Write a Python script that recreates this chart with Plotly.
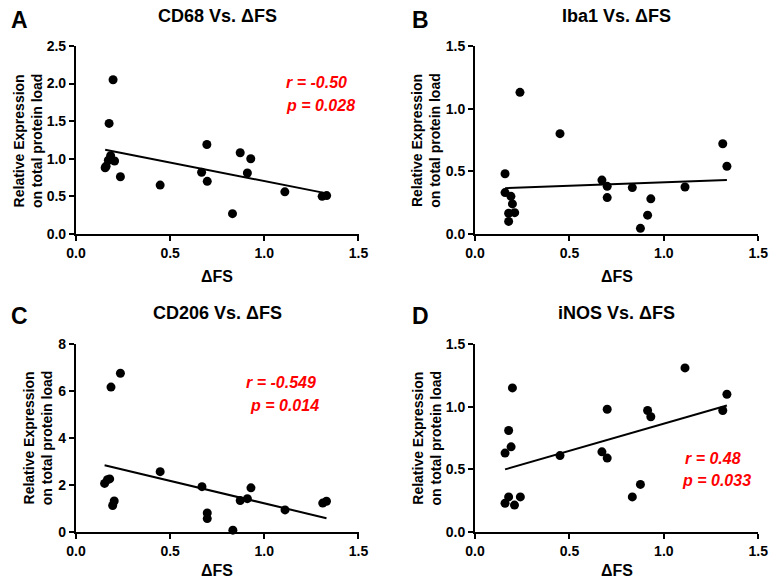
import plotly.graph_objects as go

W, H = 778, 587
FONT = "Arial, Liberation Sans, sans-serif"

# ---------------- data ----------------
titles = ["CD68 Vs. ΔFS", "Iba1 Vs. ΔFS", "CD206 Vs. ΔFS", "iNOS Vs. ΔFS"]
letters = ["A", "B", "C", "D"]

a_x = [0.155, 0.160, 0.172, 0.176, 0.184, 0.197, 0.205, 0.236, 0.447, 0.667,
       0.695, 0.697, 0.831, 0.872, 0.910, 0.928, 1.109, 1.307, 1.331]
a_y = [0.88, 0.90, 0.98, 1.47, 1.04, 2.05, 0.97, 0.76, 0.65, 0.82,
       1.19, 0.70, 0.27, 1.08, 0.81, 1.00, 0.56, 0.50, 0.51]
a_fit = [1.12, 0.54]

b_x = [0.159, 0.159, 0.190, 0.178, 0.178, 0.198, 0.210, 0.238, 0.450, 0.672,
       0.700, 0.700, 0.833, 0.876, 0.914, 0.931, 1.112, 1.312, 1.334]
b_y = [0.48, 0.33, 0.30, 0.165, 0.10, 0.24, 0.17, 1.13, 0.80, 0.43,
       0.38, 0.29, 0.37, 0.045, 0.15, 0.28, 0.375, 0.72, 0.54]
b_fit = [0.365, 0.43]

c_x = [0.152, 0.167, 0.179, 0.186, 0.195, 0.203, 0.236, 0.447, 0.669, 0.697,
       0.697, 0.833, 0.872, 0.910, 0.929, 1.110, 1.310, 1.330]
c_y = [2.07, 2.23, 2.26, 6.17, 1.13, 1.32, 6.76, 2.57, 1.93, 0.81,
       0.57, 0.08, 1.34, 1.42, 1.88, 0.94, 1.23, 1.31]
c_fit = [2.84, 0.59]

d_x = [0.159, 0.159, 0.178, 0.178, 0.191, 0.198, 0.209, 0.240, 0.450, 0.672,
       0.700, 0.700, 0.833, 0.876, 0.914, 0.931, 1.112, 1.312, 1.334]
d_y = [0.63, 0.23, 0.81, 0.28, 0.68, 1.15, 0.215, 0.28, 0.61, 0.64,
       0.98, 0.59, 0.28, 0.38, 0.97, 0.92, 1.31, 0.97, 1.10]
d_fit = [0.50, 1.01]

stats = [["r = -0.50", "p = 0.028"], None, ["r = -0.549", "p = 0.014"], ["r = 0.48", "p = 0.033"]]

x_ticks = [0.0, 0.5, 1.0, 1.5]
x_ticklabels = ["0.0", "0.5", "1.0", "1.5"]
y_ranges = [[0, 2.5], [0, 1.5], [0, 8], [0, 1.5]]
y_ticks = [[0, 0.5, 1.0, 1.5, 2.0, 2.5], [0, 0.5, 1.0, 1.5], [0, 2, 4, 6, 8], [0, 0.5, 1.0, 1.5]]
y_ticklabels = [["0.0", "0.5", "1.0", "1.5", "2.0", "2.5"], ["0.0", "0.5", "1.0", "1.5"],
                ["0", "2", "4", "6", "8"], ["0.0", "0.5", "1.0", "1.5"]]
x_title = "ΔFS"
y_title = "Relative Expression<br>on total protein load"

series = [(a_x, a_y, a_fit), (b_x, b_y, b_fit), (c_x, c_y, c_fit), (d_x, d_y, d_fit)]

# ---------------- layout geometry (pixels) ----------------
plots_px = [  # x0, x1, ytop, ybottom
    (67.7, 357.7, 39.0, 232.3),
    (477.3, 768.0, 39.0, 232.3),
    (67.7, 357.7, 345.5, 538.7),
    (477.3, 768.0, 345.5, 538.7),
]
title_pos = [(212.7, 8), (622.6, 8), (212.7, 314), (622.6, 314)]
letter_pos = [(9.5, 12.5), (421.5, 12.5), (9.5, 317), (421.5, 317)]
xtitle_pos = [(212.7, 276), (622.6, 276), (212.7, 578), (622.6, 578)]
ytitle_pos = [(18.3, 136), (427.5, 136), (29, 442), (427.5, 442)]
stat_pos = [[(315, 77), (318.3, 100)], None, [(278.3, 385), (282, 408.3)], [(721.7, 463.3), (724.8, 485.7)]]


def px(x):
    return x / W


def py(y):
    return 1 - y / H


def b(t):
    return f"<b>{t}</b>"


fig = go.Figure()
annotations = []

for i, (xs, ys, fit) in enumerate(series):
    n = i + 1
    xa = "x" if n == 1 else f"x{n}"
    ya = "y" if n == 1 else f"y{n}"
    fig.add_trace(go.Scatter(
        x=xs, y=ys, mode="markers", xaxis=xa, yaxis=ya,
        marker=dict(color="black", size=9, line=dict(width=0)),
        showlegend=False, cliponaxis=False))
    fig.add_trace(go.Scatter(
        x=[min(xs), max(xs)], y=fit, mode="lines", xaxis=xa, yaxis=ya,
        line=dict(color="black", width=2), showlegend=False))

    x0, x1, yt, yb = plots_px[i]
    axis_common = dict(
        showline=True, linecolor="black", linewidth=2, ticks="outside",
        ticklen=5, tickwidth=2, tickcolor="black", showgrid=False, zeroline=False,
        tickfont=dict(family=FONT, size=14, color="black"),
        fixedrange=True)
    fig.layout[f"xaxis{'' if n == 1 else n}"] = dict(
        domain=[px(x0), px(x1)], anchor=ya, range=[0, 1.5],
        tickvals=x_ticks, ticktext=[b(t) for t in x_ticklabels], **axis_common)
    fig.layout[f"yaxis{'' if n == 1 else n}"] = dict(
        domain=[py(yb), py(yt)], anchor=xa, range=y_ranges[i],
        tickvals=y_ticks[i], ticktext=[b(t) for t in y_ticklabels[i]], **axis_common)

    tx, ty = title_pos[i]
    annotations.append(dict(text=b(titles[i]), x=px(tx), y=py(ty), xref="paper", yref="paper",
                            showarrow=False, xanchor="center", yanchor="middle",
                            font=dict(family=FONT, size=18, color="black")))
    lx, ly = letter_pos[i]
    annotations.append(dict(text=b(letters[i]), x=px(lx), y=py(ly), xref="paper", yref="paper",
                            showarrow=False, xanchor="center", yanchor="middle",
                            font=dict(family=FONT, size=23, color="black")))
    ax_, ay_ = xtitle_pos[i]
    annotations.append(dict(text=b(x_title), x=px(ax_), y=py(ay_), xref="paper", yref="paper",
                            showarrow=False, xanchor="center", yanchor="middle",
                            font=dict(family=FONT, size=16, color="black")))
    bx, by = ytitle_pos[i]
    annotations.append(dict(text=b(y_title), x=px(bx), y=py(by), xref="paper", yref="paper",
                            showarrow=False, xanchor="center", yanchor="middle", textangle=-90,
                            font=dict(family=FONT, size=14, color="black")))
    if stats[i]:
        for txt, (sx, sy) in zip(stats[i], stat_pos[i]):
            annotations.append(dict(text=f"<b><i>{txt}</i></b>", x=px(sx), y=py(sy), xref="paper", yref="paper",
                                    showarrow=False, xanchor="center", yanchor="middle",
                                    font=dict(family=FONT, size=16, color="#ff0000")))

fig.update_layout(
    width=W, height=H, margin=dict(l=0, r=0, t=0, b=0),
    paper_bgcolor="white", plot_bgcolor="white",
    annotations=annotations, showlegend=False)

fig.write_html("out.html", config={"displayModeBar": False})

# remove the browser's default body margin so the figure sits at the page origin
with open("out.html", "r", encoding="utf-8") as f:
    html = f.read()
html = html.replace("<body>", '<body style="margin:0;padding:0;overflow:hidden">', 1)
with open("out.html", "w", encoding="utf-8") as f:
    f.write(html)
